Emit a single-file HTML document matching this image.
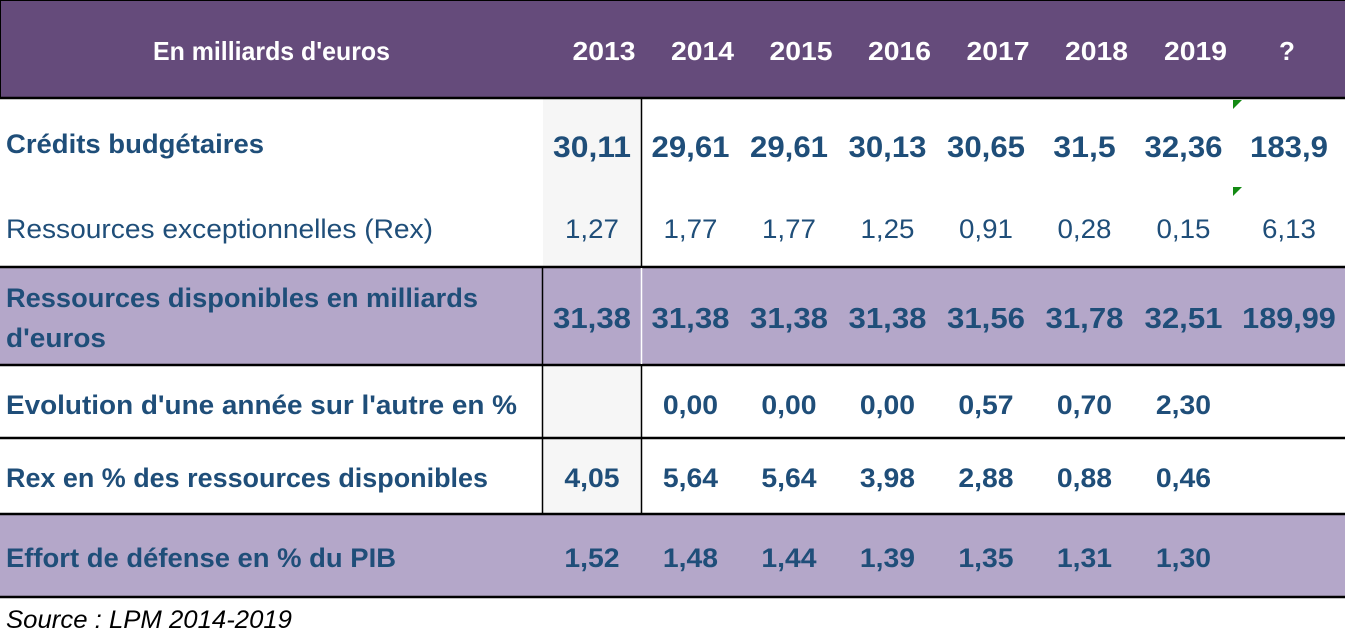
<!DOCTYPE html>
<html><head><meta charset="utf-8"><style>
html,body{margin:0;padding:0;background:#fff}
svg{display:block}
text{font-family:"Liberation Sans",sans-serif}
</style></head><body>
<svg width="1345" height="638" viewBox="0 0 1345 638">
<rect x="0" y="0" width="1345" height="98" fill="#654b7b"/>
<line x1="0" y1="0.5" x2="1345" y2="0.5" stroke="#000"/>
<line x1="0.5" y1="0" x2="0.5" y2="98" stroke="#000"/>
<rect x="543" y="99" width="98" height="168" fill="#f6f6f6"/>
<rect x="543" y="366" width="98" height="148" fill="#f6f6f6"/>
<rect x="0" y="267" width="1345" height="98" fill="#b4a7c9"/>
<rect x="0" y="514" width="1345" height="83" fill="#b4a7c9"/>
<g stroke="#000" stroke-width="2.5">
<line x1="0" y1="98" x2="1345" y2="98"/>
<line x1="0" y1="267" x2="1345" y2="267"/>
<line x1="0" y1="365" x2="1345" y2="365"/>
<line x1="0" y1="438" x2="1345" y2="438"/>
<line x1="0" y1="514" x2="1345" y2="514"/>
<line x1="0" y1="597" x2="1345" y2="597"/>
</g>
<g stroke="#000" stroke-width="1.5">
<line x1="542.5" y1="267" x2="542.5" y2="514"/>
<line x1="641.5" y1="98" x2="641.5" y2="267"/>
<line x1="641.5" y1="365" x2="641.5" y2="514"/>
</g>
<line x1="641.5" y1="268" x2="641.5" y2="364" stroke="#fff" stroke-width="1.5"/>
<polygon points="1233,100 1242,100 1233,109" fill="#138a13"/>
<polygon points="1233,187 1242,187 1233,196" fill="#138a13"/>
<g id="content"></g>
<text x="6" y="628" font-size="25" font-style="italic" fill="#000" textLength="286" lengthAdjust="spacingAndGlyphs">Source : LPM 2014-2019</text>
</svg>
<script>
const years = ["2013","2014","2015","2016","2017","2018","2019","?"];
const credits = ["30,11","29,61","29,61","30,13","30,65","31,5","32,36","183,9"];
const rex = ["1,27","1,77","1,77","1,25","0,91","0,28","0,15","6,13"];
const ressources = ["31,38","31,38","31,38","31,38","31,56","31,78","32,51","189,99"];
const evolution = ["","0,00","0,00","0,00","0,57","0,70","2,30",""];
const rexPct = ["4,05","5,64","5,64","3,98","2,88","0,88","0,46",""];
const effort = ["1,52","1,48","1,44","1,39","1,35","1,31","1,30",""];

const NS="http://www.w3.org/2000/svg";
const g=document.getElementById('content');
const colBounds=[543,641,740,838,937,1035,1134,1233,1345];
function txt(s,x,y,size,bold,fill,anchor,len,name){
  const t=document.createElementNS(NS,'text');
  t.setAttribute('x',x);t.setAttribute('y',y);
  t.setAttribute('font-size',size);
  if(bold)t.setAttribute('font-weight','bold');
  t.setAttribute('fill',fill);
  t.setAttribute('text-anchor',anchor);
  if(len){t.setAttribute('textLength',len);t.setAttribute('lengthAdjust','spacingAndGlyphs');}
  t.textContent=s;
  
  
  g.appendChild(t);
}
const blue="#1f4e79";
txt("En milliards d'euros",153,60,26,true,"#fff","start",237,"header-label");
years.forEach((y,i)=>{
  const c=(colBounds[i]+colBounds[i+1])/2+ (i<7?12:-2);
  txt(y,c,60,26,true,"#fff","middle",y.length>1?63:null,"year-header-"+y);
});
txt("Crédits budgétaires",6,153,27,true,blue,"start",258,"label-credits");
txt("Ressources exceptionnelles (Rex)",6,238,27,false,blue,"start",427,"label-rex");
txt("Ressources disponibles en milliards",6,307,27,true,blue,"start",472,"label-ressources");
txt("d'euros",6,347,27,true,blue,"start",100,"label-ressources-2");
txt("Evolution d'une année sur l'autre en %",6,414,27,true,blue,"start",511,"label-evolution");
txt("Rex en % des ressources disponibles",6,487,27,true,blue,"start",482,"label-rex-pct");
txt("Effort de défense en % du PIB",6,567,27,true,blue,"start",390,"label-effort");
function row(arr,y,size,bold,charW,name){
  arr.forEach((v,i)=>{
    if(!v)return;
    const c=(colBounds[i]+colBounds[i+1])/2;
    txt(v,c,y,size,bold,blue,"middle",v.length*charW,name+"-"+years[i]);
  });
}
row(credits,157,30,true,15.6,"credits");
row(rex,238,27,false,13.5,"rex");
row(ressources,328,29,true,15.6,"ressources");
row(evolution,414,27,true,13.8,"evolution");
row(rexPct,487,27,true,13.8,"rexpct");
row(effort,567,27,true,13.8,"effort");
</script>
</body></html>
